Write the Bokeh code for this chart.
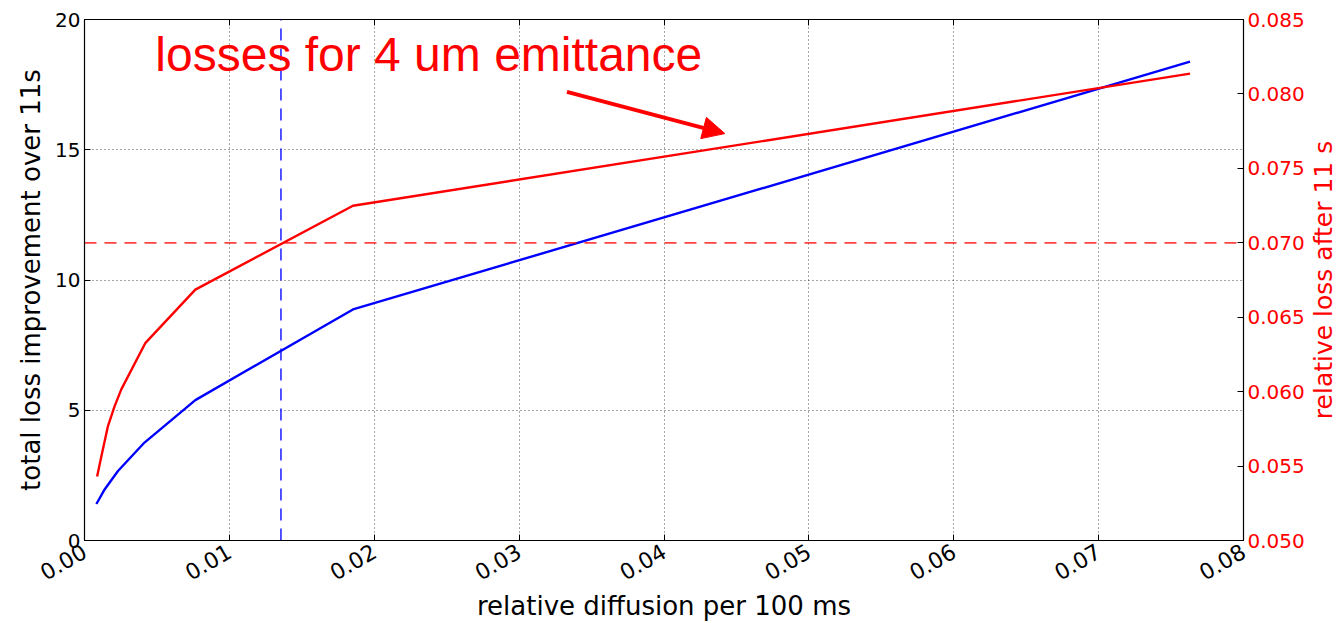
import math
from bokeh.plotting import figure
from bokeh.layouts import row
from bokeh.models import (Range1d, LinearAxis, FixedTicker, NumeralTickFormatter,
                          Arrow, NormalHead, Label)
from bokeh.embed import file_html
from bokeh.resources import INLINE

# ---- data ----
diffusion_blue = [0.00082, 0.00140, 0.00231, 0.00414, 0.00765, 0.01853, 0.07631]
improvement = [1.40, 1.97, 2.67, 3.76, 5.39, 8.87, 18.38]
diffusion_red = [0.00087, 0.00117, 0.00162, 0.00208, 0.00254, 0.00421, 0.00765, 0.01853, 0.07631]
rel_loss = [0.0543, 0.05568, 0.05769, 0.05903, 0.06015, 0.06328, 0.06685, 0.07249, 0.08136]
vline_x = 0.01356
hline_y = 0.070
x_ticks = [0.0, 0.01, 0.02, 0.03, 0.04, 0.05, 0.06, 0.07, 0.08]
left_ticks = [0, 5, 10, 15, 20]
right_ticks = [0.050, 0.055, 0.060, 0.065, 0.070, 0.075, 0.080, 0.085]
annot_text = "losses for 4 um emittance"
annot_pos = (0.00489, 18.64)
arrow_start = (0.0333, 17.22)
arrow_end = (0.0442, 15.62)
right_label_text = "relative loss after 11 s"

FONT = "DejaVu Sans"

p = figure(width=1307, height=623, output_backend="svg", toolbar_location=None,
           x_range=Range1d(0, 0.08), y_range=Range1d(0, 20),
           min_border_left=84, min_border_right=62, min_border_top=19, min_border_bottom=82)
p.extra_y_ranges = {"right": Range1d(0.050, 0.085)}
p.background_fill_color = "white"
p.border_fill_color = "white"
p.outline_line_color = "black"
p.outline_line_width = 1.2

# grids
for g in (p.xgrid, p.ygrid):
    g.grid_line_color = "black"
    g.grid_line_dash = "1 3"
    g.grid_line_alpha = 0.7
    g.grid_line_width = 1
p.xgrid.ticker = FixedTicker(ticks=x_ticks)
p.ygrid.ticker = FixedTicker(ticks=left_ticks)

# bottom axis
xa = p.xaxis[0]
xa.ticker = FixedTicker(ticks=x_ticks)
xa.formatter = NumeralTickFormatter(format="0.00")
xa.major_label_orientation = math.pi / 6
xa.axis_label = "relative diffusion per 100 ms"

# left axis
ya = p.yaxis[0]
ya.ticker = FixedTicker(ticks=left_ticks)
ya.formatter = NumeralTickFormatter(format="0")
ya.axis_label = "total loss improvement over 11s"

for ax in (xa, ya):
    ax.major_tick_in = 6
    ax.major_tick_out = 0
    ax.minor_tick_line_color = None
    ax.axis_line_color = "black"
    ax.major_tick_line_color = "black"
    ax.major_label_text_font = FONT
    ax.major_label_text_font_size = "20px"
    ax.major_label_text_color = "black"
    ax.axis_label_text_font = FONT
    ax.axis_label_text_font_size = "26px"
    ax.axis_label_text_font_style = "normal"
    ax.axis_label_text_color = "black"
    ax.major_label_standoff = 4
    ax.axis_label_standoff = 6
xa.major_label_text_font_size = "22px"
xa.major_label_standoff = 9
xa.axis_label_standoff = 0

# top axis: ticks only
ta = LinearAxis(ticker=FixedTicker(ticks=x_ticks), major_label_text_font_size="1px",
                major_label_text_color=None, major_label_standoff=0,
                major_tick_in=6, major_tick_out=0, minor_tick_line_color=None,
                axis_line_color="black", major_tick_line_color="black")
p.add_layout(ta, "above")

# right axis (ticks + labels)
ra = LinearAxis(y_range_name="right", ticker=FixedTicker(ticks=right_ticks),
                formatter=NumeralTickFormatter(format="0.000"))
ra.major_tick_in = 6
ra.major_tick_out = 0
ra.minor_tick_line_color = None
ra.axis_line_color = "black"
ra.major_tick_line_color = "black"
ra.major_label_text_font = FONT
ra.major_label_text_font_size = "20px"
ra.major_label_text_color = "red"
ra.major_label_standoff = 4
p.add_layout(ra, "right")

# lines
p.line(diffusion_blue, improvement, line_color="#0000ff", line_width=2.4)
p.line(diffusion_red, rel_loss, line_color="#ff0000", line_width=2.4, y_range_name="right")

# dashed reference lines
p.line([vline_x, vline_x], [0, 20], line_color="#0000ff", line_width=1.8,
       line_dash="12 8", line_alpha=0.75)
p.line([0, 0.08], [hline_y, hline_y], line_color="#ff0000", line_width=1.8,
       line_dash="12 8", line_alpha=0.75, y_range_name="right")

# annotation
p.add_layout(Label(x=annot_pos[0], y=annot_pos[1], text=annot_text,
                   text_font="Liberation Sans", text_font_size="48px",
                   text_color="red", text_baseline="alphabetic"))
p.add_layout(Arrow(x_start=arrow_start[0], y_start=arrow_start[1],
                   x_end=arrow_end[0], y_end=arrow_end[1],
                   line_color="red", line_width=4,
                   end=NormalHead(size=22, fill_color="red", line_color="red")))

# narrow side panel holding the right-axis title (reads bottom-to-top)
p2 = figure(width=32, height=623, output_backend="svg", toolbar_location=None,
            x_range=Range1d(0, 1), y_range=p.y_range,
            x_axis_location=None, y_axis_location=None,
            min_border_left=0, min_border_right=0, min_border_top=19, min_border_bottom=82)
p2.outline_line_color = None
p2.background_fill_color = "white"
p2.border_fill_color = "white"
p2.xgrid.visible = False
p2.ygrid.visible = False
p2.add_layout(Label(x=0.5, y=10.0, text=right_label_text, angle=math.pi / 2,
                    text_font=FONT, text_font_size="25px", text_color="red",
                    text_align="center", text_baseline="middle"))

layout = row(p, p2, spacing=0)
open("out.html", "w").write(file_html(layout, INLINE))
